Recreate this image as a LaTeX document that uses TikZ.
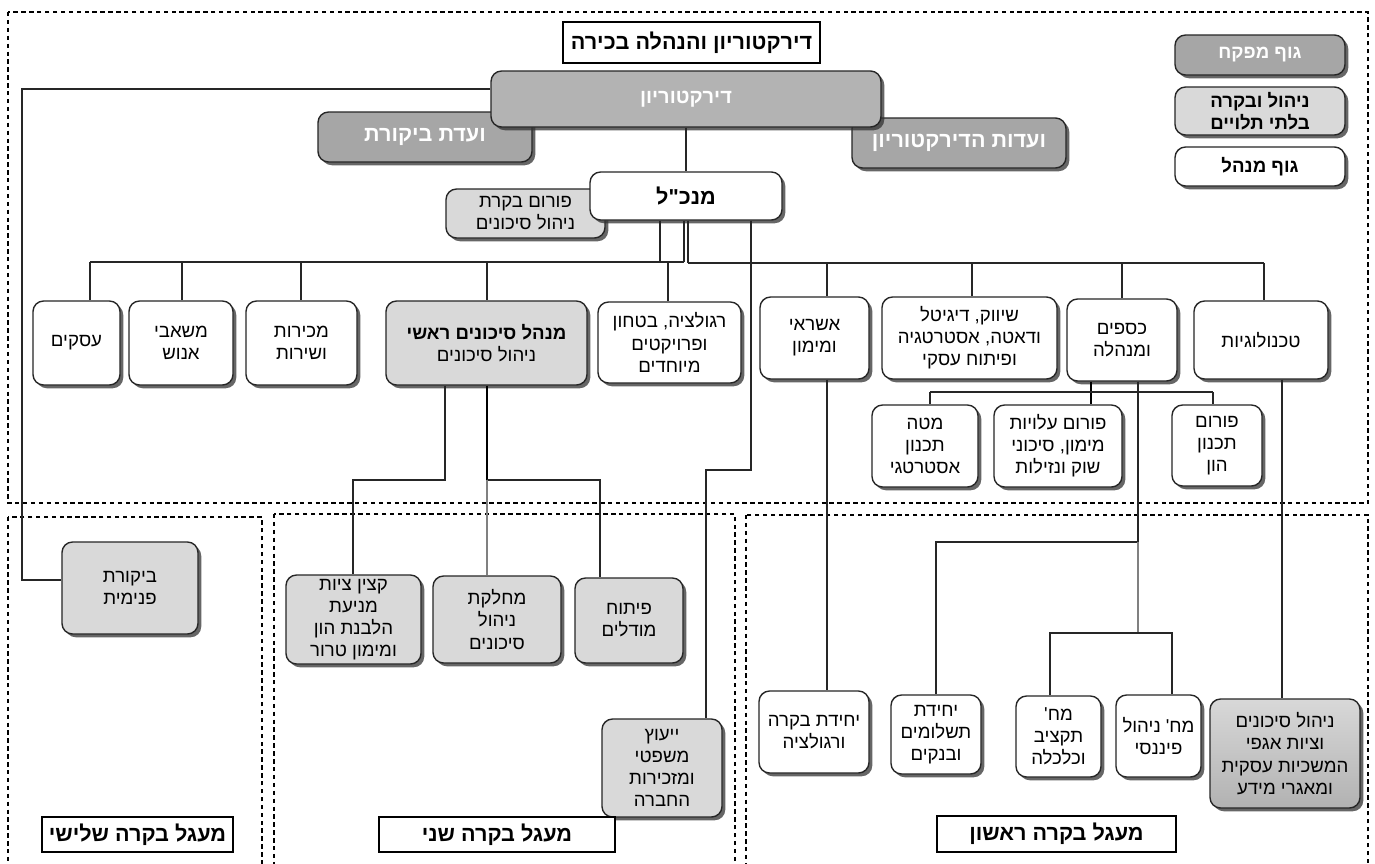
\documentclass[tikz,border=0pt]{standalone}
\usepackage{fontspec}
\newfontfamily\heb[Script=Hebrew]{Liberation Sans}
\TeXXeTstate=1
\usetikzlibrary{shadows}
\newcommand\RL[1]{\beginR#1\endR}
\newcommand\nfont{\heb\fontsize{10.6}{12.6}\selectfont}
\newcommand\bfont{\heb\bfseries\fontsize{10.6}{12.6}\selectfont}
\newcommand\mfont{\heb\bfseries\fontsize{11.4}{13}\selectfont}
\newcommand\lfont{\heb\bfseries\fontsize{12.3}{14}\selectfont}
\definecolor{supc}{HTML}{A6A6A6}
\definecolor{dirc}{HTML}{B3B3B3}
\definecolor{lite}{HTML}{D9D9D9}
\definecolor{edgec}{HTML}{262626}
\definecolor{gtop}{HTML}{D8D8D8}
\definecolor{gbot}{HTML}{B2B2B2}
\newcommand\bx[7]{%
 \pgfmathsetmacro\bxcx{(#3+#5)/2}\pgfmathsetmacro\bxcy{(#4+#6)/2}%
 \pgfmathsetmacro\bxww{(#5-#3)*0.02}\pgfmathsetmacro\bxhh{(#6-#4)*0.02}%
 \node[#1, minimum width=\bxww cm, minimum height=\bxhh cm] (#2) at (\bxcx,\bxcy) {#7};}
\tikzset{
 bxbase/.style={draw=edgec, line width=0.8pt, rounded corners=6pt, align=center, inner sep=0pt, font=\nfont, text=black,
   drop shadow={shadow xshift=0.065cm, shadow yshift=-0.065cm, fill=black!80, opacity=0.75}},
 wbox/.style={bxbase, fill=white},
 lbox/.style={bxbase, fill=lite},
 dbox/.style={bxbase, fill=supc, text=white, font=\bfont},
 combox/.style={dbox, font=\lfont},
 dirbox/.style={dbox, fill=dirc, font=\mfont},
 wbbox/.style={wbox, font=\bfont},
 ceobox/.style={wbox, font=\lfont},
 lbbox/.style={lbox, font=\bfont},
 gbox/.style={bxbase, top color=gtop, bottom color=gbot},
 lab/.style={draw=black, line width=0.7pt, fill=white, inner sep=0pt, align=center, font=\lfont},
 frame/.style={draw=black, line width=0.6pt, dash pattern=on 2.5pt off 2pt},
 conn/.style={draw=black!85, line width=0.6pt},
 thk/.style={draw=black, line width=1.2pt},
 gconn/.style={draw=black!50, line width=0.6pt}
}
\begin{document}
\begin{tikzpicture}[x=0.02cm,y=-0.02cm]
\clip (0,0) rectangle (1375,863);
\fill[white] (0,0) rectangle (1375,863);
% frames
\draw[frame] (8,12) rectangle (1368,503);
\draw[frame] (8,517) rectangle (262,880);
\draw[frame] (274,514) rectangle (735,880);
\draw[frame] (746,515) rectangle (1368,880);
% top
\bx{lab}{title}{563}{22}{820}{63}{\RL{דירקטוריון והנהלה בכירה}}
\bx{dbox}{lg1}{1175}{35}{1345}{75}{\RL{גוף מפקח}}
\bx{lbbox}{lg2}{1175}{87}{1345}{135}{\RL{ניהול ובקרה}\\\RL{בלתי תלויים}}
\bx{wbbox}{lg3}{1175}{147}{1345}{186}{\RL{גוף מנהל}}
\bx{combox}{audc}{318}{112}{532}{162}{\RL{ועדת ביקורת}}
\bx{combox}{bcom}{852}{118}{1066}{168}{\RL{ועדות הדירקטוריון}}
\bx{dirbox}{dir}{491}{71}{881}{127}{\RL{דירקטוריון}}
\bx{lbox}{rforum}{446}{189}{605}{238}{\RL{פורום בקרת}\\\RL{ניהול סיכונים}}
\bx{ceobox}{ceo}{590}{172}{782}{220}{\RL{מנכ"ל}}
% row
\bx{wbox}{asakim}{33}{301}{120}{385}{\RL{עסקים}}
\bx{wbox}{hr}{129}{301}{233}{385}{\RL{משאבי}\\\RL{אנוש}}
\bx{wbox}{sales}{246}{301}{357}{385}{\RL{מכירות}\\\RL{ושירות}}
\bx{lbox}{cro}{386}{301}{587}{385}{{\bfseries\RL{מנהל סיכונים ראשי}}\\\RL{ניהול סיכונים}}
\bx{wbox}{reg}{598}{302}{741}{383}{\RL{רגולציה, בטחון}\\\RL{ופרויקטים}\\\RL{מיוחדים}}
\bx{wbox}{credit}{760}{297}{869}{379}{\RL{אשראי}\\\RL{ומימון}}
\bx{wbox}{mkt}{882}{297}{1057}{379}{\RL{שיווק, דיגיטל}\\\RL{ודאטה, אסטרטגיה}\\\RL{ופיתוח עסקי}}
\bx{wbox}{fin}{1067}{299}{1177}{381}{\RL{כספים}\\\RL{ומנהלה}}
\bx{wbox}{tech}{1194}{301}{1328}{379}{\RL{טכנולוגיות}}
\bx{wbox}{mate}{872}{405}{978}{487}{\RL{מטה}\\\RL{תכנון}\\\RL{אסטרטגי}}
\bx{wbox}{fcost}{994}{405}{1122}{487}{\RL{פורום עלויות}\\\RL{מימון, סיכוני}\\\RL{שוק ונזילות}}
\bx{wbox}{fcap}{1172}{405}{1262}{486}{\RL{פורום}\\\RL{תכנון}\\\RL{הון}}
% bottom left
\bx{lbox}{intaud}{62}{542}{198}{634}{\RL{ביקורת}\\\RL{פנימית}}
\bx{lab}{c3}{42}{817}{233}{852}{\RL{מעגל בקרה שלישי}}
% bottom middle
\bx{lbox}{aml}{286}{575}{421}{664}{\RL{קצין ציות}\\\RL{מניעת}\\\RL{הלבנת הון}\\\RL{ומימון טרור}}
\bx{lbox}{rdept}{433}{576}{561}{663}{\RL{מחלקת}\\\RL{ניהול}\\\RL{סיכונים}}
\bx{lbox}{models}{575}{578}{683}{663}{\RL{פיתוח}\\\RL{מודלים}}
\bx{lbox}{legal}{602}{719}{722}{817}{\RL{ייעוץ}\\\RL{משפטי}\\\RL{ומזכירות}\\\RL{החברה}}
\bx{lab}{c2}{379}{817}{615}{852}{\RL{מעגל בקרה שני}}
% bottom right
\bx{wbox}{ctrl}{759}{691}{869}{773}{\RL{יחידת בקרה}\\\RL{ורגולציה}}
\bx{wbox}{pay}{891}{695}{981}{774}{\RL{יחידת}\\\RL{תשלומים}\\\RL{ובנקים}}
\bx{wbox}{budget}{1016}{696}{1101}{777}{\RL{מח'}\\\RL{תקציב}\\\RL{וכלכלה}}
\bx{wbox}{fmgmt}{1116}{695}{1201}{777}{\RL{מח' ניהול}\\\RL{פיננסי}}
\bx{gbox}{riskbu}{1210}{699}{1360}{808}{\RL{ניהול סיכונים}\\\RL{וציות אגפי}\\\RL{המשכיות עסקית}\\\RL{ומאגרי מידע}}
\bx{lab}{c1}{937}{816}{1176}{852}{\RL{מעגל בקרה ראשון}}
% connectors
\draw[conn] (dir.south -| ceo.north) -- (ceo.north);
\draw[conn] (dir.west |- 0,89) -| (22,580) -- (intaud.west |- 0,580);
\draw[conn] (ceo.south -| 660,0) -- (660,262);
\draw[conn] (ceo.south -| 684,0) -- (684,262);
\draw[conn] (ceo.south -| 688,0) -- (688,263);
\draw[conn] (90,262) -- (684,262);
\draw[conn] (688,263) -- (1264,263);
\foreach \n/\x in {asakim/90, hr/182, sales/301, cro/487, reg/668}
  \draw[conn] (\x,262) -- (\n.north -| \x,0);
\foreach \n/\x in {credit/827, mkt/972, fin/1122, tech/1264}
  \draw[conn] (\x,263) -- (\n.north -| \x,0);
\draw[conn] (ceo.south -| 751,0) -- (751,470) -- (706,470) -- (legal.north -| 706,0);
\draw[conn] (cro.south -| 445,0) |- (353,480) -- (aml.north -| 353,0);
\draw[thk] (cro.south -| 487,0) -- (487,480);
\draw[conn] (487,480) -| (models.north -| 600,0);
\draw[gconn] (487,480) -- (rdept.north -| 487,0);
\draw[thk] (fin.south -| 1091,0) -- (fcost.north -| 1091,0);
\draw[conn] (930,392) -- (1213,392);
\foreach \n/\x in {mate/930, fcap/1213}
  \draw[conn] (\x,392) -- (\n.north -| \x,0);
\draw[conn] (fin.south -| 1138,0) -- (1138,542) -| (pay.north);
\draw[gconn] (1138,542) -- (1138,633);
\draw[conn] (budget.north -| 1050,0) |- (1172,633) -- (fmgmt.north -| 1172,0);
\draw[conn] (credit.south -| 827,0) -- (ctrl.north -| 827,0);
\draw[conn] (tech.south -| 1282,0) -- (riskbu.north -| 1282,0);
\end{tikzpicture}
\end{document}
